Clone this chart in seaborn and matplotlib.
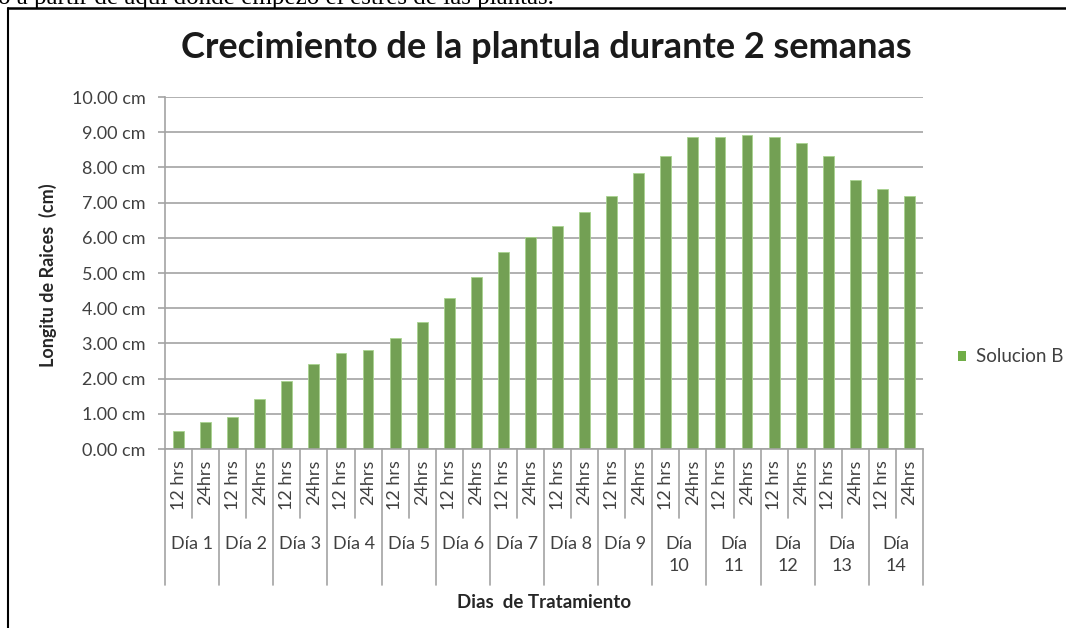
import matplotlib
matplotlib.use("Agg")
import matplotlib.pyplot as plt
import matplotlib.lines as mlines
import pandas as pd
import seaborn as sns

# Data: root length measured every 12 h over 14 days
dias = ["Día 1", "Día 2", "Día 3", "Día 4", "Día 5", "Día 6", "Día 7",
        "Día 8", "Día 9", "Día\n10", "Día\n11", "Día\n12", "Día\n13", "Día\n14"]
horas = ["12 hrs", "24hrs"]
longitud = [0.52, 0.78, 0.92, 1.43, 1.92, 2.42, 2.73, 2.82, 3.14, 3.60,
            4.28, 4.89, 5.60, 6.01, 6.33, 6.74, 7.19, 7.85, 8.33, 8.87,
            8.87, 8.92, 8.87, 8.69, 8.33, 7.65, 7.38, 7.18]
serie = "Solucion B"
y_ticks = [0, 1, 2, 3, 4, 5, 6, 7, 8, 9, 10]

GREEN = "#70AD47"
GRID = "#A3A3A3"
TXT = "#404040"
FS = 13

sns.set_theme(style="white")
plt.rcParams["font.family"] = ["Lato", "DejaVu Sans"]

W, H = 1066, 628
fig = plt.figure(figsize=(W / 100, H / 100), dpi=100)
ax_l, ax_r, ax_t, ax_b = 165, 923, 97, 449
ax = fig.add_axes([ax_l / W, 1 - ax_b / H, (ax_r - ax_l) / W, (ax_b - ax_t) / H])

etiquetas = [f"{d.replace(chr(10), ' ')} {h}" for d in dias for h in horas]
df = pd.DataFrame({"punto": etiquetas, "longitud": longitud, "serie": serie})

sns.barplot(data=df, x="punto", y="longitud", hue="serie",
            palette={serie: GREEN}, width=0.4, dodge=False, ax=ax,
            edgecolor="#A9D38F", linewidth=0.6, legend=False)

ax.set_ylim(0, 10)
ax.set_xlim(-0.5, len(longitud) - 0.5)
ax.set_yticks(y_ticks)
ax.set_yticklabels([f"{v:.2f} cm" for v in y_ticks], fontsize=FS, color=TXT)
ax.yaxis.grid(True, color=GRID, linewidth=1.2)
ax.xaxis.grid(False)
ax.set_axisbelow(True)

ax.set_xticks(range(len(longitud)))
ax.set_xticklabels([h for _ in dias for h in horas], rotation=90,
                   fontsize=FS, color=TXT, va="top")
ax.tick_params(axis="x", length=0, pad=8)
ax.tick_params(axis="y", length=5, width=1.2, color=GRID, left=True, pad=9)

for side in ["top", "right"]:
    ax.spines[side].set_visible(False)
for side in ["left", "bottom"]:
    ax.spines[side].set_color(GRID)
    ax.spines[side].set_linewidth(1.2)

ax.set_xlabel("")
ax.set_ylabel("")

# Two-level category axis: hour separators and day separators
trans = ax.get_xaxis_transform()
px = ax_b - ax_t
for i in range(len(longitud) + 1):
    bottom = (ax_b - 585) / px if i % 2 == 0 else (ax_b - 518) / px
    ax.plot([i - 0.5, i - 0.5], [0, bottom], transform=trans, color=GRID,
            linewidth=1.2, clip_on=False)

for d, dia in enumerate(dias):
    ax.text(2 * d + 0.5, (ax_b - 536) / px, dia, transform=trans,
            ha="center", va="top", fontsize=FS, color=TXT, linespacing=1.45)

fig.text((ax_l + ax_r) / 2 / W, 1 - 602 / H, "Dias  de Tratamiento",
         ha="center", va="center", fontsize=13.5, fontweight="bold", color="#262626")
fig.text(48 / W, 1 - 275 / H, "Longitu de Raices  (cm)", rotation=90,
         ha="center", va="center", fontsize=13, fontweight="bold", color="#262626")
fig.text(546 / W, 1 - 48 / H, "Crecimiento de la plantula durante 2 semanas",
         ha="center", va="center", fontsize=26, fontweight="bold", color="#1a1a1a")

# Legend
handle = plt.Rectangle((0, 0), 1, 1, facecolor=GREEN, edgecolor="none")
fig.legend([handle], [serie], loc="center left",
           bbox_to_anchor=(941 / W, 1 - 357 / H), frameon=False,
           handlelength=0.45, handleheight=0.45, handletextpad=0.5,
           prop={"size": 13.5}, labelcolor=TXT)

# Surrounding document text and box
fig.text(-2 / W, 1 - 4 / H, "o a partir de aqui donde empezo el estres de las plantas.",
         family="Liberation Serif", fontsize=18, va="baseline", ha="left", color="black")
fig.add_artist(mlines.Line2D([8 / W, 1], [1 - 8 / H, 1 - 8 / H], color="black", linewidth=1.8))
fig.add_artist(mlines.Line2D([8 / W, 8 / W], [0, 1 - 8 / H], color="black", linewidth=1.5))

fig.savefig("out.png", dpi=100)
